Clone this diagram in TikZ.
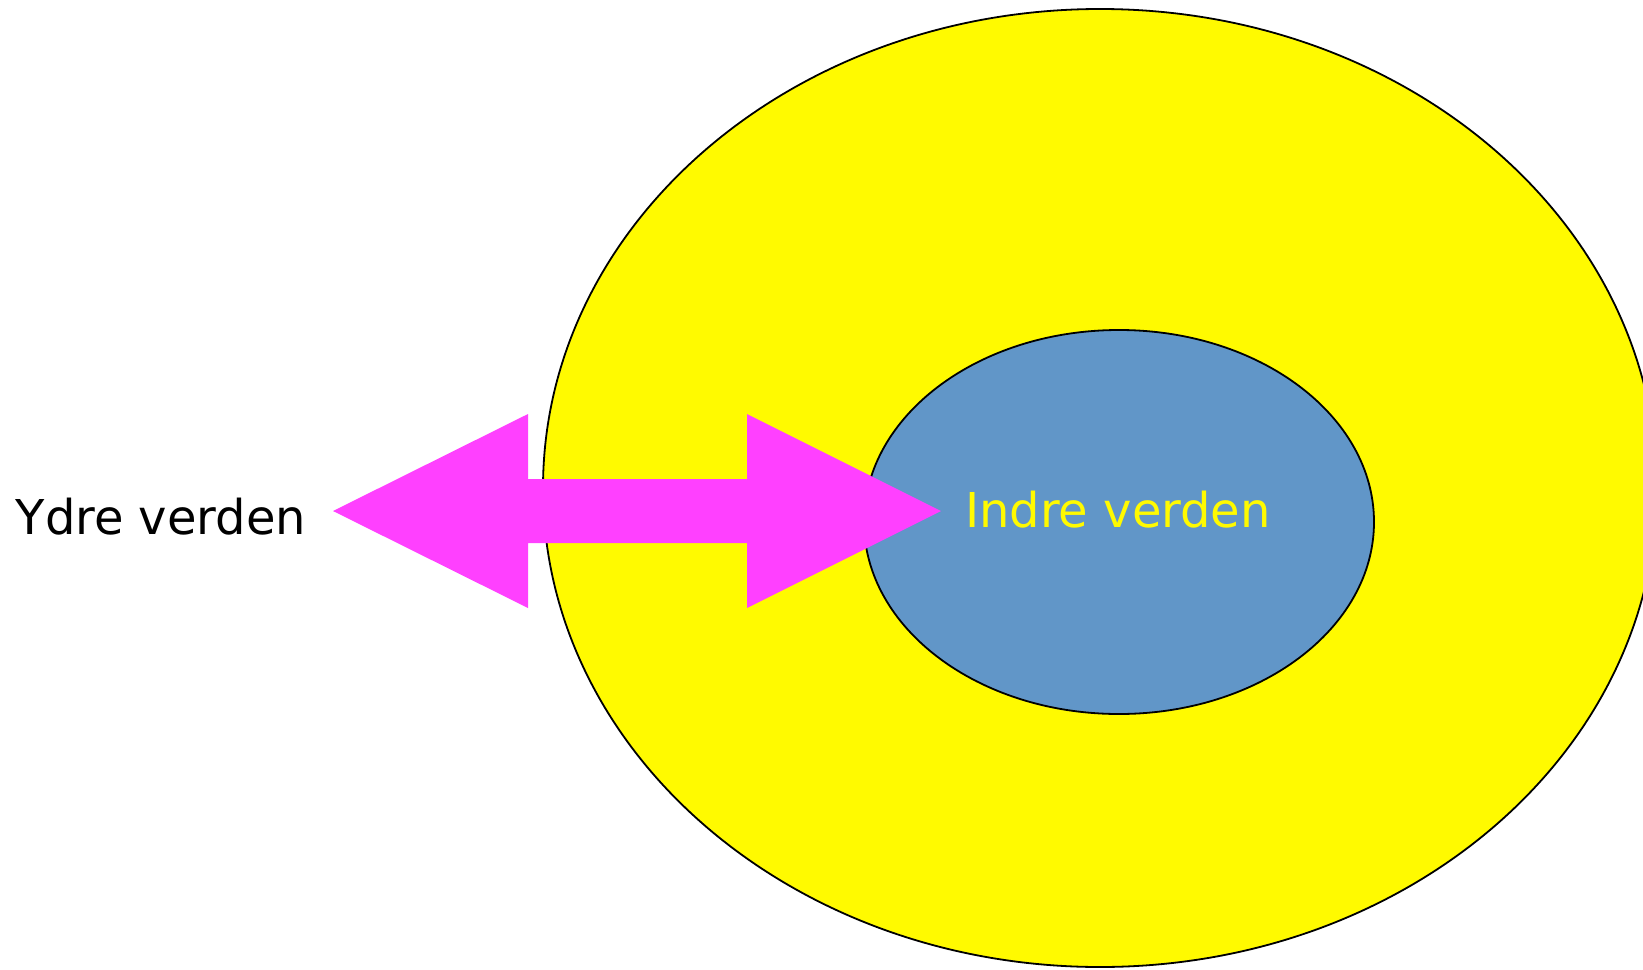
\documentclass[tikz,border=0pt]{standalone}
\usepackage{fontspec}
\setmainfont{DejaVu Sans}
\usetikzlibrary{shapes.geometric}

\definecolor{sun}{RGB}{255,250,0}
\definecolor{sky}{RGB}{97,150,200}
\definecolor{rose}{RGB}{255,64,255}

\begin{document}
\begin{tikzpicture}[x=0.5pt,y=-0.5pt,line width=0.9pt,
		world/.style={ellipse,draw,inner sep=0pt,outer sep=0pt},
		worldtext/.style={anchor=base,inner sep=0pt,font=\fontsize{24}{28}\selectfont}]
	\useasboundingbox (0,0) rectangle (1643,969);
	\clip (0,0) rectangle (1643,969);
	\node[world,fill=sun,minimum width=557pt,minimum height=479pt]	(outer)	at (1100,488)	{};
	\node[world,fill=sky,minimum width=255pt,minimum height=192pt]	(inner)	at (1119,522)	{};
	% block arrow between the two worlds
	\fill[rose] (333,511) -- (528,414) -- (528,479) -- (747,479) -- (747,414) -- (941,511)
		-- (747,608) -- (747,543) -- (528,543) -- (528,608) -- cycle;
	\node[worldtext]			(ydre)	at (161,534)	{Ydre verden};
	\node[worldtext,text=sun]	(indre)	at (1118,527)	{Indre verden};
\end{tikzpicture}
\end{document}
